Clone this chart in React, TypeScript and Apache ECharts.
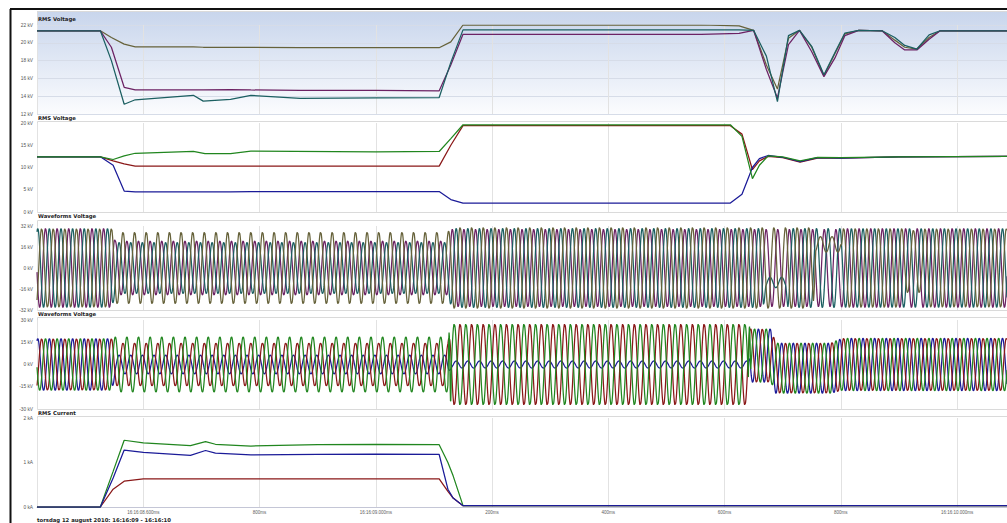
import React, { useEffect, useRef } from 'react';
import * as echarts from 'echarts';

// Time is expressed in milliseconds after 16:16:08.000
const X_MIN = 417;
const X_MAX = 2086;
const xTickValues = [600, 800, 1000, 1200, 1400, 1600, 1800, 2000];
const xTickLabels = [
  '16:16:08.600ms', '800ms', '16:16:09.000ms', '200ms',
  '400ms', '600ms', '800ms', '16:16:10.000ms',
];
const panelTitles = ['RMS Voltage', 'RMS Voltage', 'Waveforms Voltage', 'Waveforms Voltage', 'RMS Current'];
const footerText = 'torsdag 12 august 2010: 16:16:09 - 16:16:10';

// Panel 1: RMS line-line voltage (kV)
const rmsLLTimes = [417, 526, 545, 567, 586, 686, 703, 750, 785, 870, 1000, 1109, 1129, 1150, 1400, 1560, 1625, 1650, 1672, 1691, 1710, 1729, 1750, 1771, 1790, 1807, 1831, 1871, 1893, 1910, 1931, 1952, 1971, 2086];
const rmsL1 = [21.35, 21.35, 20.6, 19.85, 19.55, 19.55, 19.5, 19.5, 19.5, 19.45, 19.45, 19.45, 20.1, 22.0, 22.0, 22.0, 21.9, 21.4, 17.5, 14.8, 20.5, 21.4, 19.5, 16.3, 18.8, 21.0, 21.4, 21.35, 20.3, 19.5, 19.3, 20.6, 21.35, 21.35];
const rmsL2 = [21.35, 21.35, 19.5, 15.0, 14.7, 14.7, 14.7, 14.75, 14.7, 14.65, 14.65, 14.6, 17.5, 20.95, 20.95, 20.95, 21.05, 21.4, 17.0, 13.8, 19.8, 21.4, 19.0, 16.2, 18.3, 20.8, 21.4, 21.35, 20.0, 19.2, 19.2, 20.4, 21.35, 21.35];
const rmsL3 = [21.35, 21.35, 18.0, 13.1, 13.6, 14.1, 13.45, 13.65, 14.1, 13.75, 13.8, 13.85, 17.8, 21.45, 21.45, 21.45, 21.45, 21.4, 18.5, 13.4, 20.8, 21.4, 19.6, 16.4, 18.9, 21.1, 21.4, 21.35, 20.6, 19.7, 19.3, 20.9, 21.35, 21.35];

// Panel 2: RMS phase voltage (kV)
const rmsPhTimes = [417, 526, 548, 567, 586, 686, 706, 750, 785, 1000, 1109, 1129, 1150, 1400, 1610, 1630, 1648, 1660, 1675, 1700, 1730, 1760, 1800, 1900, 2086];
const rmsRed = [12.4, 12.4, 11.5, 10.8, 10.3, 10.3, 10.3, 10.3, 10.3, 10.3, 10.3, 15.0, 19.4, 19.4, 19.4, 17.5, 9.5, 11.5, 12.5, 12.2, 11.2, 12.1, 12.1, 12.4, 12.5];
const rmsGreen = [12.4, 12.4, 11.8, 12.6, 13.2, 13.6, 13.1, 13.1, 13.7, 13.5, 13.6, 16.5, 19.6, 19.6, 19.6, 17.0, 7.5, 10.5, 12.6, 12.4, 11.5, 12.3, 12.2, 12.4, 12.5];
const rmsBlue = [12.4, 12.4, 10.5, 4.7, 4.5, 4.55, 4.5, 4.55, 4.6, 4.6, 4.6, 2.8, 2.0, 2.0, 2.0, 4.0, 10.0, 12.0, 12.7, 12.3, 11.3, 12.2, 12.1, 12.4, 12.5];

// Panel 3: line-line waveform envelopes (peak kV and offset kV)
const waveLLTimes = [417, 546, 552, 1124, 1130, 1667, 1671, 1705, 1709, 1753, 1757, 1800, 1804, 1908, 1912, 1938, 1942, 2086];
const waveL1Peak = [30.2, 30.2, 27.5, 27.5, 31.1, 31.1, 31.1, 31.1, 31.1, 31.1, 6, 6, 30.4, 30.4, 24, 24, 30.2, 30.2];
const waveL1Offset = [0, 0, 0, 0, 0, 0, 0, 0, 0, 0, 18, 18, 0, 0, 5, 5, 0, 0];
const waveL2Peak = [30.2, 30.2, 20.6, 20.6, 29.6, 29.6, 29.6, 29.6, 29.6, 29.6, 29.6, 29.6, 30.2, 30.2, 30.2, 30.2, 30.2, 30.2];
const waveL2Offset = [0, 0, 0, 0, 0, 0, 0, 0, 0, 0, 0, 0, 0, 0, 0, 0, 0, 0];
const waveL3Peak = [30.2, 30.2, 19.5, 19.5, 30.3, 30.3, 4, 4, 30.3, 30.3, 30.3, 30.3, 30.2, 30.2, 30.2, 30.2, 30.2, 30.2];
const waveL3Offset = [0, 0, 0, 0, 0, 0, -11, -11, 0, 0, 0, 0, 0, 0, 0, 0, 0, 0];

// Panel 4: phase waveform envelopes (peak kV, offset kV, phase angle deg)
const wavePhTimes = [417, 546, 552, 1124, 1130, 1641, 1645, 1680, 1688, 1782, 1802, 2086];
const waveRedPeak = [17.5, 17.5, 14.6, 14.6, 27.5, 27.5, 18, 18, 17, 17, 17.8, 17.8];
const waveGreenPeak = [17.5, 17.5, 18.7, 18.7, 27.5, 27.5, 18, 18, 17, 17, 17.8, 17.8];
const waveBluePeak = [17.5, 17.5, 6.4, 6.4, 2.4, 2.4, 18, 18, 17, 17, 17.8, 17.8];
const wavePhOffset = [0, 0, 0, 0, 0, 0, 6, 6, -2.5, -2.5, 0, 0];
const waveGreenAngle = [-120, -120, -120, -120, 180, 180, -120, -120, -120, -120, -120, -120];

// Panel 5: RMS current (kA)
const currentTimes = [417, 526, 548, 567, 600, 681, 707, 724, 785, 900, 1000, 1109, 1124, 1133, 1150, 2086];
const currentGreen = [0, 0, 0.8, 1.5, 1.44, 1.38, 1.47, 1.41, 1.37, 1.4, 1.41, 1.4, 1.0, 0.7, 0.03, 0.03];
const currentBlue = [0, 0, 0.65, 1.28, 1.23, 1.16, 1.27, 1.21, 1.17, 1.18, 1.19, 1.18, 0.4, 0.2, 0.03, 0.03];
const currentRed = [0, 0, 0.4, 0.58, 0.63, 0.63, 0.63, 0.63, 0.63, 0.63, 0.63, 0.63, 0.35, 0.2, 0.03, 0.03];

const LINE_FREQ_HZ = 50;

const C_OLIVE = '#66623a';
const C_PURPLE = '#6c2264';
const C_TEAL = '#1b5f61';
const C_RED = '#8a1818';
const C_GREEN = '#21861f';
const C_BLUE = '#1b1b98';

const PLOT_LEFT = 37;
const PLOT_RIGHT = 1007;
const panels = [
  { top: 25, height: 89, min: 12, max: 22, interval: 2, unit: 'kV', boxTop: 11, boxBottom: 114, titleY: 19 },
  { top: 123, height: 89, min: 0, max: 20, interval: 5, unit: 'kV', boxTop: 121, boxBottom: 212, titleY: 118 },
  { top: 226, height: 84, min: -32, max: 32, interval: 16, unit: 'kV', boxTop: 220, boxBottom: 310, titleY: 216 },
  { top: 320, height: 89, min: -30, max: 30, interval: 15, unit: 'kV', boxTop: 317, boxBottom: 409, titleY: 314 },
  { top: 418, height: 89, min: 0, max: 2, interval: 1, unit: 'kA', boxTop: 416, boxBottom: 507, titleY: 413 },
];

function interp(ts: number[], vs: number[], t: number): number {
  if (t <= ts[0]) return vs[0];
  for (let i = 1; i < ts.length; i++) {
    if (t <= ts[i]) {
      const f = (t - ts[i - 1]) / (ts[i] - ts[i - 1]);
      return vs[i - 1] + f * (vs[i] - vs[i - 1]);
    }
  }
  return vs[vs.length - 1];
}

function pairs(ts: number[], vs: number[]) {
  return ts.map((t, i) => [t, vs[i]]);
}

// Sinusoid sampled every 0.5 ms, shaped by the envelope knots
function wave(ts: number[], peak: number[], offset: number[], angle: number[] | number) {
  const out: number[][] = [];
  for (let t = X_MIN; t <= X_MAX; t += 0.5) {
    const a = interp(ts, peak, t);
    const o = interp(ts, offset, t);
    const phi = (typeof angle === 'number' ? angle : interp(ts, angle, t)) * Math.PI / 180;
    out.push([t, o + a * Math.sin((2 * Math.PI * LINE_FREQ_HZ * t) / 1000 + phi)]);
  }
  return out;
}

function lineSeries(idx: number, color: string, data: number[][], width = 1.25) {
  return {
    type: 'line',
    xAxisIndex: idx,
    yAxisIndex: idx,
    data,
    showSymbol: false,
    symbol: 'none',
    silent: true,
    lineStyle: { color, width },
  };
}

export default function App() {
  const ref = useRef<HTMLDivElement>(null);

  useEffect(() => {
    if (!ref.current) return;
    const chart = echarts.init(ref.current, undefined, { renderer: 'svg' });

    const grid = panels.map((p) => ({
      left: PLOT_LEFT,
      right: 1007 - PLOT_RIGHT,
      top: p.top,
      height: p.height,
      show: false,
    }));

    const xAxis = panels.map((p, i) => ({
      type: 'value',
      gridIndex: i,
      min: X_MIN,
      max: X_MAX,
      minInterval: 200,
      maxInterval: 200,
      axisLine: { show: i === 4, lineStyle: { color: '#c4c6d6', width: 1 } },
      axisTick: { show: false },
      axisLabel: {
        show: i === 4,
        showMinLabel: false,
        showMaxLabel: false,
        margin: 3,
        fontSize: 4.5,
        color: '#5e5e5e',
        fontFamily: 'Liberation Sans',
        formatter: (v: number) => {
          const k = xTickValues.indexOf(Math.round(v));
          return k >= 0 ? xTickLabels[k] : '';
        },
      },
      splitLine: { show: true, lineStyle: { color: '#e2e2e2', width: 1 } },
    }));

    const yAxis = panels.map((p, i) => ({
      type: 'value',
      gridIndex: i,
      min: p.min,
      max: p.max,
      interval: p.interval,
      axisLine: { show: false },
      axisTick: { show: false },
      axisLabel: {
        margin: 4,
        fontSize: 4.8,
        color: '#555555',
        fontFamily: 'Liberation Sans',
        formatter: (v: number) => `${v} ${p.unit}`,
      },
      splitLine: { show: i === 0, lineStyle: { color: '#d6dce8', width: 1 } },
    }));

    const series = [
      lineSeries(0, C_OLIVE, pairs(rmsLLTimes, rmsL1)),
      lineSeries(0, C_PURPLE, pairs(rmsLLTimes, rmsL2)),
      lineSeries(0, C_TEAL, pairs(rmsLLTimes, rmsL3)),

      lineSeries(1, C_RED, pairs(rmsPhTimes, rmsRed)),
      lineSeries(1, C_BLUE, pairs(rmsPhTimes, rmsBlue)),
      lineSeries(1, C_GREEN, pairs(rmsPhTimes, rmsGreen)),

      lineSeries(2, C_PURPLE, wave(waveLLTimes, waveL2Peak, waveL2Offset, -120)),
      lineSeries(2, C_TEAL, wave(waveLLTimes, waveL3Peak, waveL3Offset, 120)),
      lineSeries(2, C_OLIVE, wave(waveLLTimes, waveL1Peak, waveL1Offset, 0)),

      lineSeries(3, C_BLUE, wave(wavePhTimes, waveBluePeak, wavePhOffset, 120)),
      lineSeries(3, C_RED, wave(wavePhTimes, waveRedPeak, wavePhOffset, 0)),
      lineSeries(3, C_GREEN, wave(wavePhTimes, waveGreenPeak, wavePhOffset, waveGreenAngle)),

      lineSeries(4, C_RED, pairs(currentTimes, currentRed)),
      lineSeries(4, C_GREEN, pairs(currentTimes, currentGreen)),
      lineSeries(4, C_BLUE, pairs(currentTimes, currentBlue)),
    ];

    const plotW = PLOT_RIGHT - PLOT_LEFT;
    const graphic: any[] = [
      {
        type: 'rect',
        z: -10,
        shape: { x: PLOT_LEFT, y: 11, width: plotW, height: 103 },
        style: {
          fill: new echarts.graphic.LinearGradient(0, 0, 0, 1, [
            { offset: 0, color: '#c8d5ec' },
            { offset: 1, color: '#fbfcfe' },
          ]),
        },
      },
    ];
    panels.forEach((p, i) => {
      graphic.push({
        type: 'rect',
        z: -5,
        shape: { x: PLOT_LEFT + 0.5, y: p.boxTop + 0.5, width: plotW + 4, height: p.boxBottom - p.boxTop },
        style: { fill: 'none', stroke: '#dadada', lineWidth: 1 },
      });
      graphic.push({
        type: 'text',
        z: 50,
        x: PLOT_LEFT + 1,
        y: p.titleY,
        style: {
          text: panelTitles[i],
          font: 'bold 5.3px "DejaVu Sans"',
          fill: '#222',
          verticalAlign: 'middle',
        },
      });
    });
    graphic.push(
      {
        type: 'text',
        z: 50,
        x: PLOT_LEFT,
        y: 519.5,
        style: {
          text: footerText,
          font: 'bold 5.3px "DejaVu Sans"',
          fill: '#222',
          verticalAlign: 'middle',
        },
      },
      {
        type: 'line',
        z: 60,
        shape: { x1: 10, y1: 9, x2: 1007, y2: 9 },
        style: { stroke: '#111', lineWidth: 2 },
      },
      {
        type: 'line',
        z: 60,
        shape: { x1: 10.5, y1: 9, x2: 10.5, y2: 523 },
        style: { stroke: '#111', lineWidth: 2 },
      }
    );

    chart.setOption({
      animation: false,
      backgroundColor: '#ffffff',
      grid,
      xAxis,
      yAxis,
      series,
      graphic,
    });

    return () => chart.dispose();
  }, []);

  return (
    <div
      ref={ref}
      style={{ position: 'fixed', left: 0, top: 0, width: 1007, height: 523, background: '#fff' }}
    />
  );
}
